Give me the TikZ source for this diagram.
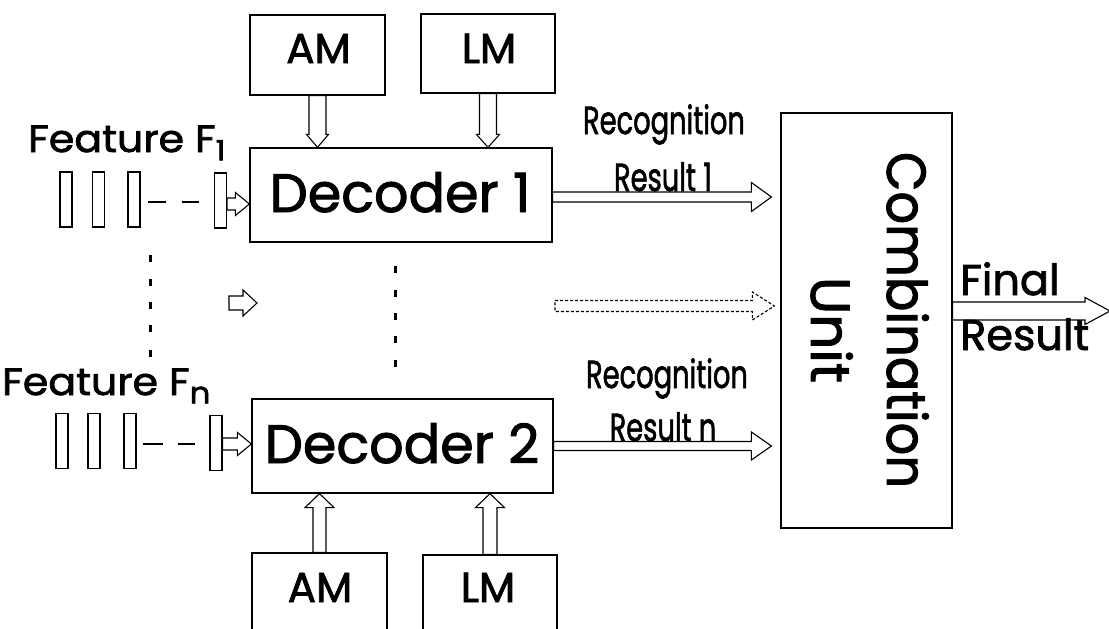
\documentclass[tikz,border=0pt]{standalone}
\usepackage{fontspec}
\setmainfont{Poppins}[UprightFeatures={FakeBold=1.8}]
\usetikzlibrary{calc}

% hollow block arrows: [style]{from}{to}{shaft half-width}{head half-width}{head length}
\newcommand\harr[6][]{%
  \draw[blk,#1] let \p1=(#2), \p2=(#3) in
    (\x1,\y1+#4) -- (\x2-#6,\y1+#4) -- (\x2-#6,\y1+#5) -- (\x2,\y1)
    -- (\x2-#6,\y1-#5) -- (\x2-#6,\y1-#4) -- (\x1,\y1-#4) -- cycle;}
\newcommand\darr[6][]{%
  \draw[blk,#1] let \p1=(#2), \p2=(#3) in
    (\x1-#4,\y1) -- (\x1-#4,\y2+#6) -- (\x1-#5,\y2+#6) -- (\x1,\y2)
    -- (\x1+#5,\y2+#6) -- (\x1+#4,\y2+#6) -- (\x1+#4,\y1) -- cycle;}
\newcommand\uarr[6][]{%
  \draw[blk,#1] let \p1=(#2), \p2=(#3) in
    (\x1-#4,\y1) -- (\x1-#4,\y2-#6) -- (\x1-#5,\y2-#6) -- (\x1,\y2)
    -- (\x1+#5,\y2-#6) -- (\x1+#4,\y2-#6) -- (\x1+#4,\y1) -- cycle;}
% narrow lettering for the result labels
\newcommand\narrow[1]{\scalebox{0.7}[1]{#1}}

\tikzset{
  box/.style={draw, line width=1.2pt, inner sep=0pt, minimum width=#1},
  blk/.style={draw, line width=1.1pt, fill=white, line join=miter},
  dblk/.style={densely dashed},
  bar/.style={draw, line width=1.2pt, inner sep=0pt, minimum width=12pt, minimum height=55pt},
  lbl/.style={inner sep=0pt, anchor=base},
  lblw/.style={inner sep=0pt, anchor=base west},
  big/.style={font=\fontsize{54}{60}\selectfont},
  mid/.style={font=\fontsize{42}{46}\selectfont},
  feat/.style={font=\fontsize{38}{42}\selectfont},
  fin/.style={font=\fontsize{43}{46}\selectfont},
  small/.style={font=\fontsize{39}{42}\selectfont},
  dotcol/.style={line width=3pt},
}

\begin{document}
\begin{tikzpicture}[x=1pt, y=-1pt]
\clip (0,0) rectangle (1109,629);
\fill[white] (0,0) rectangle (1109,629);

% model boxes
\node[box=135pt, minimum height=80pt] (am1) at (317.5,55) {};
\node[box=134pt, minimum height=79pt] (lm1) at (488,53.5) {};
\node[box=135pt, minimum height=94pt] (am2) at (319.5,600) {};
\node[box=134pt, minimum height=94pt] (lm2) at (490,602) {};
\node[lbl, mid] (am1t) at (318.5,63) {AM};
\node[lbl, mid] (lm1t) at (489,63) {LM};
\node[lbl, mid] (am2t) at (320,602) {AM};
\node[lbl, mid] (lm2t) at (488,602) {LM};

% decoders
\node[box=302pt, minimum height=94pt] (dec1) at (401,195) {};
\node[box=301pt, minimum height=94pt] (dec2) at (402.5,446) {};
\node[lbl, big] (dec1t) at (400,212) {Decoder 1};
\node[lbl, big] (dec2t) at (402,463) {Decoder 2};

% combination unit
\node[box=171pt, minimum height=415pt] (comb) at (866.5,320.5) {};
\node[lbl, font=\fontsize{55}{60}\selectfont, rotate=-90] (combt) at (887,320) {\scalebox{0.93}[1]{Combination}};
\node[lbl, font=\fontsize{55}{60}\selectfont, rotate=-90] (unitt) at (811,330) {Unit};

% feature vectors
\node[lblw, feat] (f1t) at (28,152) {\scalebox{1.08}[1]{Feature F\raisebox{-0.22em}{\fontsize{28}{30}\selectfont 1}}};
\node[lblw, feat] (fnt) at (2,395) {\scalebox{1.08}[1]{Feature F\raisebox{-0.22em}{\fontsize{30}{32}\selectfont n}}};

\node[bar] (b11) at (66,199.5) {};
\node[bar] (b12) at (98.5,199.5) {};
\node[bar] (b13) at (134,199.5) {};
\node[bar] (b14) at (220.5,200.5) {};
\node[bar] (bn1) at (62,441) {};
\node[bar] (bn2) at (94,441) {};
\node[bar] (bn3) at (130,441) {};
\node[bar] (bn4) at (216,443) {};
\draw[line width=2pt] (148,202) -- (166,202) (182,202) -- (199,202);
\draw[line width=2pt] (143,444) -- (163,444) (178,444) -- (195,444);

% vertical ellipses
\foreach \y in {258,282,305,328,353} \draw[dotcol] (150,\y-3.5) -- (150,\y+3.5);
\foreach \y in {269,293,316,339,363} \draw[dotcol] (395,\y-3.5) -- (395,\y+3.5);

% named arrow ends
\coordinate (f1s) at ($(b14.east)+(0,3.5)$);
\coordinate (fns) at ($(bn4.east)+(0,1)$);
\coordinate (r1s) at ($(dec1.east)+(0,2)$);
\coordinate (r1e) at ($(comb.west |- r1s)+(-9,0)$);
\coordinate (rne) at ($(comb.west |- dec2.east)+(-9,0)$);
\coordinate (rms) at (555,306);
\coordinate (rme) at ($(comb.west |- rms)+(-6,0)$);
\coordinate (sas) at (229,303);
\coordinate (sae) at (257,303);
\coordinate (fis) at ($(comb.east)+(0,-9.5)$);
\coordinate (fie) at (1110,311);

% model inputs
\darr{am1.south}{am1.south |- dec1.north}{8.5pt}{11pt}{13pt}
\darr{lm1.south}{lm1.south |- dec1.north}{8.5pt}{11.5pt}{13pt}
\uarr{am2.north}{am2.north |- dec2.south}{6.5pt}{14.5pt}{14pt}
\uarr{lm2.north}{lm2.north |- dec2.south}{7pt}{14.5pt}{14pt}

% feature inputs
\harr{f1s}{dec1.west |- f1s}{6pt}{11.5pt}{14pt}
\harr{fns}{dec2.west |- fns}{6pt}{11.5pt}{14pt}
\harr{sas}{sae}{7pt}{13pt}{14pt}

% recognition results
\harr{r1s}{r1e}{5pt}{14.5pt}{20pt}
\harr[dblk]{rms}{rme}{5.5pt}{14pt}{22pt}
\harr{dec2.east}{rne}{4.5pt}{14pt}{20pt}
\harr{fis}{fie}{9pt}{13.5pt}{25pt}

% result labels
\node[lbl, small] (rec1) at (664,134) {\narrow{Recognition}};
\node[lbl, small] (res1) at (663,191) {\narrow{Result 1}};
\node[lbl, small] (recn) at (667,388) {\narrow{Recognition}};
\node[lbl, small] (resn) at (663,441) {\narrow{Result n}};
\node[lblw, fin] (fint) at (960,295) {Final};
\node[lblw, fin] (frest) at (960,350) {Result};
\end{tikzpicture}
\end{document}
